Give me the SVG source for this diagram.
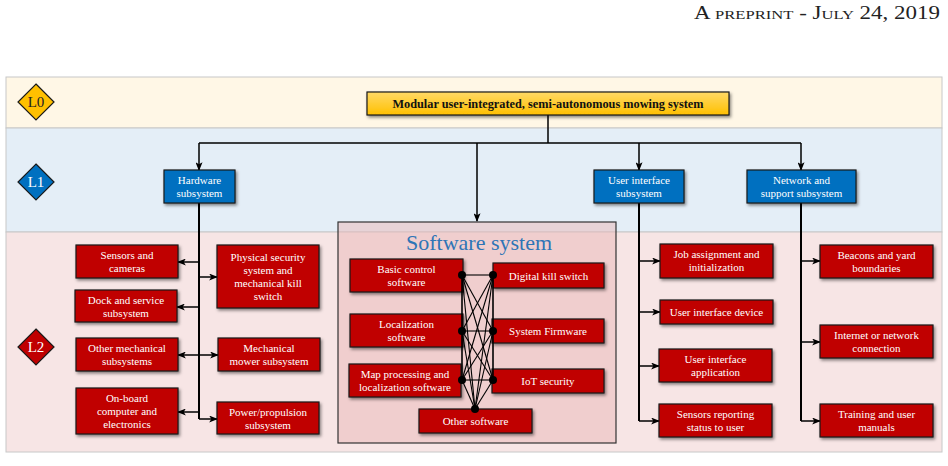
<svg xmlns="http://www.w3.org/2000/svg" width="948" height="466" viewBox="0 0 948 466">
<style>
  text { font-family: "Liberation Serif", "Times New Roman", serif; }
  .band { stroke: #c8c8c8; stroke-width: 1; }
  .red { fill: #c00000; stroke: #1a1a1a; stroke-width: 1.2; filter: url(#sh); }
  .blue { fill: #0070c0; stroke: #1a1a1a; stroke-width: 1.2; filter: url(#sh); }
  .wt { fill: #ffffff; font-size: 11px; text-anchor: middle; }
  .lbl { font-size: 15px; text-anchor: middle; }
  .con { fill: none; stroke: #000; stroke-width: 1.5; }
  .trunk { fill: none; stroke: #000; stroke-width: 2; }
  .net { stroke: #000; stroke-width: 1.1; }
</style>
<defs>
  <filter id="sh" x="-10%" y="-10%" width="125%" height="140%">
    <feDropShadow dx="1.5" dy="2" stdDeviation="1.5" flood-color="#000" flood-opacity="0.45"/>
  </filter>
  <linearGradient id="yg" x1="0" y1="0" x2="0" y2="1">
    <stop offset="0" stop-color="#ffd966"/>
    <stop offset="1" stop-color="#ffc000"/>
  </linearGradient>
  <marker id="ah" viewBox="0 0 10 8" refX="9" refY="4" markerWidth="9" markerHeight="7" markerUnits="userSpaceOnUse" orient="auto">
    <path d="M0,0 L10,4 L0,8 L2.5,4 z" fill="#000"/>
  </marker>
</defs>

<text x="940" y="19" font-size="18" text-anchor="end" textLength="246" lengthAdjust="spacingAndGlyphs" style="font-variant: small-caps" fill="#222">A preprint - July 24, 2019</text>

<!-- bands -->
<rect class="band" x="6" y="77" width="936" height="51" fill="#fff7e6"/>
<rect class="band" x="6" y="128" width="936" height="104" fill="#e4eef7"/>
<rect class="band" x="6" y="232" width="936" height="220" fill="#f7e5e5"/>

<!-- level diamonds -->
<g id="level-L0">
  <polygon points="36,84 54,102 36,120 18,102" fill="#ffc000" stroke="#1a1a1a" stroke-width="1.2"/>
  <text class="lbl" x="36" y="107" fill="#222">L0</text>
</g>
<g id="level-L1">
  <polygon points="36,164 54,182 36,200 18,182" fill="#0070c0" stroke="#1a1a1a" stroke-width="1.2"/>
  <text class="lbl" x="36" y="187" fill="#fff">L1</text>
</g>
<g id="level-L2">
  <polygon points="36,329 54,347 36,365 18,347" fill="#c00000" stroke="#1a1a1a" stroke-width="1.2"/>
  <text class="lbl" x="36" y="352" fill="#fff">L2</text>
</g>

<!-- software system container -->
<g id="software-system">
  <rect x="338" y="222" width="278" height="221" fill="#e9b8b8" fill-opacity="0.5" stroke="#333" stroke-width="1.2"/>
  <text x="479" y="250" font-size="22" text-anchor="middle" fill="#2e75b6">Software system</text>
</g>

<!-- connectors -->
<g id="connectors">
  <path class="con" d="M548,115 V143"/>
  <path class="con" d="M199,143 H801"/>
  <path class="con" d="M199,143 V170" marker-end="url(#ah)"/>
  <path class="con" d="M477,143 V221" marker-end="url(#ah)"/>
  <path class="con" d="M639,143 V170" marker-end="url(#ah)"/>
  <path class="con" d="M801,143 V170" marker-end="url(#ah)"/>

  <!-- hardware trunk -->
  <path class="trunk" d="M199,203 V419"/>
  <path class="con" d="M199,262 H178" marker-end="url(#ah)"/>
  <path class="con" d="M199,307 H177" marker-end="url(#ah)"/>
  <path class="con" d="M199,355 H178" marker-end="url(#ah)"/>
  <path class="con" d="M199,412 H178" marker-end="url(#ah)"/>
  <path class="con" d="M199,277 H217" marker-end="url(#ah)"/>
  <path class="con" d="M199,355 H218" marker-end="url(#ah)"/>
  <path class="con" d="M199,419 H217" marker-end="url(#ah)"/>

  <!-- user interface trunk -->
  <path class="trunk" d="M639,203 V421"/>
  <path class="con" d="M639,261 H660" marker-end="url(#ah)"/>
  <path class="con" d="M639,312 H660" marker-end="url(#ah)"/>
  <path class="con" d="M639,366 H659" marker-end="url(#ah)"/>
  <path class="con" d="M639,421 H659" marker-end="url(#ah)"/>

  <!-- network trunk -->
  <path class="trunk" d="M801,203 V421"/>
  <path class="con" d="M801,261 H820" marker-end="url(#ah)"/>
  <path class="con" d="M801,342 H820" marker-end="url(#ah)"/>
  <path class="con" d="M801,421 H820" marker-end="url(#ah)"/>
</g>

<!-- top node -->
<g id="system">
  <rect x="367" y="92" width="362" height="23" fill="url(#yg)" stroke="#1a1a1a" stroke-width="1.2" filter="url(#sh)"/>
  <text x="548" y="107.5" font-size="12.3" font-weight="bold" text-anchor="middle" fill="#111">Modular user-integrated, semi-autonomous mowing system</text>
</g>

<!-- L1 nodes -->
<g id="hardware">
  <rect class="blue" x="164" y="170" width="71" height="33"/>
  <text class="wt" x="199.5" y="183.5">Hardware</text>
  <text class="wt" x="199.5" y="196.5">subsystem</text>
</g>
<g id="user-interface">
  <rect class="blue" x="594" y="170" width="90" height="33"/>
  <text class="wt" x="639" y="183.5">User interface</text>
  <text class="wt" x="639" y="196.5">subsystem</text>
</g>
<g id="network">
  <rect class="blue" x="747" y="170" width="109" height="33"/>
  <text class="wt" x="801.5" y="183.5">Network and</text>
  <text class="wt" x="801.5" y="196.5">support subsystem</text>
</g>

<!-- hardware children -->
<g id="sensors-cameras">
  <rect class="red" x="76" y="245" width="102" height="33"/>
  <text class="wt" x="127" y="259">Sensors and</text>
  <text class="wt" x="127" y="272">cameras</text>
</g>
<g id="dock-service">
  <rect class="red" x="75" y="290" width="102" height="32"/>
  <text class="wt" x="126" y="303.5">Dock and service</text>
  <text class="wt" x="126" y="316.5">subsystem</text>
</g>
<g id="other-mechanical">
  <rect class="red" x="76" y="338" width="102" height="33"/>
  <text class="wt" x="127" y="352">Other mechanical</text>
  <text class="wt" x="127" y="365">subsystems</text>
</g>
<g id="onboard-computer">
  <rect class="red" x="76" y="388" width="102" height="46"/>
  <text class="wt" x="127" y="402">On-board</text>
  <text class="wt" x="127" y="415">computer and</text>
  <text class="wt" x="127" y="428">electronics</text>
</g>
<g id="physical-security">
  <rect class="red" x="217" y="245" width="102" height="63"/>
  <text class="wt" x="268" y="260.5">Physical security</text>
  <text class="wt" x="268" y="273.5">system and</text>
  <text class="wt" x="268" y="286.5">mechanical kill</text>
  <text class="wt" x="268" y="299.5">switch</text>
</g>
<g id="mechanical-mower">
  <rect class="red" x="218" y="338" width="102" height="33"/>
  <text class="wt" x="269" y="352">Mechanical</text>
  <text class="wt" x="269" y="365">mower subsystem</text>
</g>
<g id="power-propulsion">
  <rect class="red" x="217" y="402" width="102" height="32"/>
  <text class="wt" x="268" y="415.5">Power/propulsion</text>
  <text class="wt" x="268" y="428.5">subsystem</text>
</g>

<!-- software children -->
<g id="basic-control">
  <rect class="red" x="350" y="259" width="113" height="33"/>
  <text class="wt" x="406.5" y="273">Basic control</text>
  <text class="wt" x="406.5" y="286">software</text>
</g>
<g id="localization">
  <rect class="red" x="350" y="314" width="113" height="33"/>
  <text class="wt" x="406.5" y="328">Localization</text>
  <text class="wt" x="406.5" y="341">software</text>
</g>
<g id="map-processing">
  <rect class="red" x="349" y="364" width="112" height="33"/>
  <text class="wt" x="405" y="378">Map processing and</text>
  <text class="wt" x="405" y="391">localization software</text>
</g>
<g id="digital-kill">
  <rect class="red" x="493" y="263" width="111" height="25"/>
  <text class="wt" x="548.5" y="279.5">Digital kill switch</text>
</g>
<g id="firmware">
  <rect class="red" x="492" y="319" width="112" height="24"/>
  <text class="wt" x="548" y="335">System Firmware</text>
</g>
<g id="iot-security">
  <rect class="red" x="492" y="369" width="112" height="24"/>
  <text class="wt" x="548" y="385">IoT security</text>
</g>
<g id="other-software">
  <rect class="red" x="419" y="409" width="113" height="24"/>
  <text class="wt" x="475.5" y="425">Other software</text>
</g>

<!-- software interconnection mesh -->
<g id="software-mesh">
  <g class="net">
    <line x1="462" y1="275" x2="462" y2="331"/>
    <line x1="462" y1="275" x2="462" y2="380"/>
    <line x1="462" y1="331" x2="462" y2="380"/>
    <line x1="493" y1="275" x2="493" y2="331"/>
    <line x1="493" y1="275" x2="493" y2="380"/>
    <line x1="493" y1="331" x2="493" y2="380"/>
    <line x1="462" y1="275" x2="493" y2="275"/>
    <line x1="462" y1="275" x2="493" y2="331"/>
    <line x1="462" y1="275" x2="493" y2="380"/>
    <line x1="462" y1="331" x2="493" y2="275"/>
    <line x1="462" y1="331" x2="493" y2="331"/>
    <line x1="462" y1="331" x2="493" y2="380"/>
    <line x1="462" y1="380" x2="493" y2="275"/>
    <line x1="462" y1="380" x2="493" y2="331"/>
    <line x1="462" y1="380" x2="493" y2="380"/>
    <line x1="475" y1="409" x2="462" y2="275"/>
    <line x1="475" y1="409" x2="462" y2="331"/>
    <line x1="475" y1="409" x2="462" y2="380"/>
    <line x1="475" y1="409" x2="493" y2="275"/>
    <line x1="475" y1="409" x2="493" y2="331"/>
    <line x1="475" y1="409" x2="493" y2="380"/>
  </g>
  <g fill="#000">
    <circle cx="462" cy="275" r="4"/>
    <circle cx="462" cy="331" r="4"/>
    <circle cx="462" cy="380" r="4"/>
    <circle cx="493" cy="275" r="4"/>
    <circle cx="493" cy="331" r="4"/>
    <circle cx="493" cy="380" r="4"/>
    <circle cx="475" cy="409" r="4"/>
  </g>
</g>

<!-- user interface children -->
<g id="job-assignment">
  <rect class="red" x="660" y="244" width="113" height="34"/>
  <text class="wt" x="716.5" y="258">Job assignment and</text>
  <text class="wt" x="716.5" y="271">initialization</text>
</g>
<g id="ui-device">
  <rect class="red" x="660" y="300" width="113" height="24"/>
  <text class="wt" x="716.5" y="316">User interface device</text>
</g>
<g id="ui-application">
  <rect class="red" x="659" y="349" width="113" height="33"/>
  <text class="wt" x="715.5" y="363">User interface</text>
  <text class="wt" x="715.5" y="376">application</text>
</g>
<g id="sensors-reporting">
  <rect class="red" x="659" y="404" width="113" height="33"/>
  <text class="wt" x="715.5" y="418">Sensors reporting</text>
  <text class="wt" x="715.5" y="431">status to user</text>
</g>

<!-- network children -->
<g id="beacons">
  <rect class="red" x="820" y="245" width="113" height="33"/>
  <text class="wt" x="876.5" y="259">Beacons and yard</text>
  <text class="wt" x="876.5" y="272">boundaries</text>
</g>
<g id="internet">
  <rect class="red" x="820" y="325" width="113" height="33"/>
  <text class="wt" x="876.5" y="339">Internet or network</text>
  <text class="wt" x="876.5" y="352">connection</text>
</g>
<g id="training">
  <rect class="red" x="820" y="404" width="113" height="33"/>
  <text class="wt" x="876.5" y="418">Training and user</text>
  <text class="wt" x="876.5" y="431">manuals</text>
</g>
</svg>
